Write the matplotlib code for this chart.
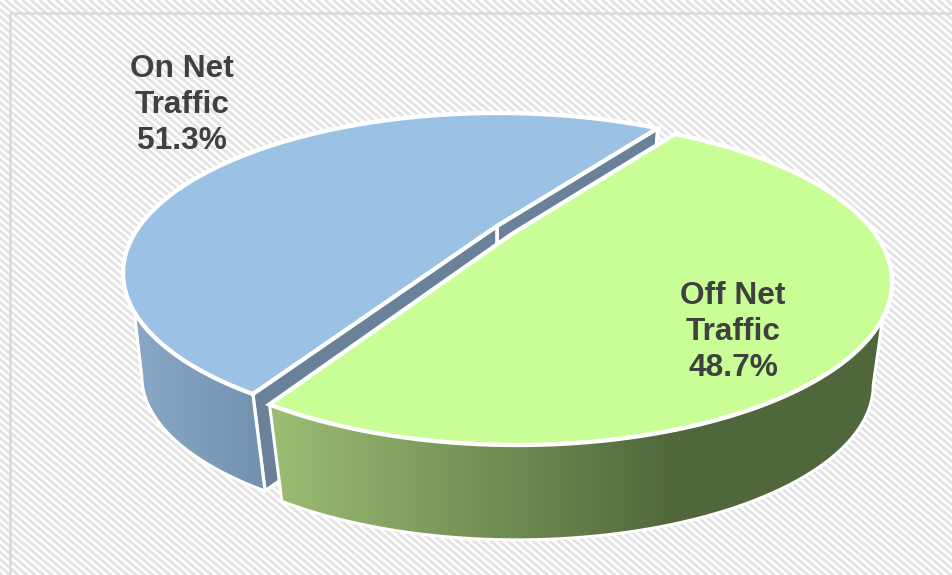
import numpy as np
import matplotlib
matplotlib.use("Agg")
import matplotlib.pyplot as plt
from matplotlib.patches import Polygon, Rectangle
from matplotlib.colors import LinearSegmentedColormap

# Data
labels = ["On Net\nTraffic", "Off Net\nTraffic"]
shares = [51.3, 48.7]

plt.rcParams['font.family'] = ['Liberation Sans', 'DejaVu Sans']

fig = plt.figure(figsize=(9.52, 5.75), dpi=100)
ax = fig.add_axes([0, 0, 1, 1])

# Background panel with diagonal stripes
panel = Rectangle((10, 13), 950, 570, facecolor='white', edgecolor='none', zorder=1)
ax.add_patch(panel)
for x0 in np.arange(-700, 960, 8.4):
    ax.plot([x0, x0 + 1000], [0, 850], color='#e3e3e3', lw=2.1, zorder=1.1, clip_path=panel,
            solid_capstyle='butt')
ax.add_patch(Rectangle((10, 13), 950, 570, facecolor='none', edgecolor='#dadada', lw=1.8, zorder=1.2))

# Perspective view of the pie disc, one ellipse per slice
shrink = 0.95
depth = 103
view_on = dict(cx=498.0, mid=273.0, rx=375.0, ry=160.0, p=0.32)
view_off = dict(cx=517.0, mid=282.0, rx=375.0, ry=163.0, p=0.331)


def rim(theta, view):
    t = np.radians(theta)
    u, v = np.cos(t), -np.sin(t)
    w = 1 - view['p'] * v
    a = view['rx'] * np.sqrt(1 - view['p'] ** 2)
    b = view['ry'] * (1 - view['p'] ** 2)
    return np.column_stack([view['cx'] + a * u / w,
                            view['mid'] - view['p'] * view['ry'] + b * v / w])


def lower(pts, view):
    out = np.array(pts, dtype=float).reshape(-1, 2)
    out[:, 0] = view['cx'] + (out[:, 0] - view['cx']) * shrink
    out[:, 1] = view['mid'] + (out[:, 1] - view['mid']) * shrink + depth
    return out


def gradient_wall(pts, colors, x_range, z):
    cmap = LinearSegmentedColormap.from_list('wall', colors)
    img = ax.imshow(np.linspace(0, 1, 256).reshape(1, -1), cmap=cmap, aspect='auto',
                    extent=[x_range[0], x_range[1], 575, 0], zorder=z)
    patch = Polygon(pts, closed=True, facecolor='none', edgecolor='white', lw=2.2, zorder=z + 0.1,
                    joinstyle='round')
    ax.add_patch(patch)
    img.set_clip_path(patch)
    return patch


start = 55.4
sweeps = [s / sum(shares) * 360 for s in shares]
a0, a1, a2 = start, start + sweeps[0], start + sweeps[0] + sweeps[1]

tip_on = np.array([497.0, 226.0])
tip_off = np.array([512.0, 234.0])

# On net slice: cut faces
for ang in (a0, a1):
    edge = rim(np.array([ang]), view_on)
    face = np.vstack([tip_on, edge, lower(edge, view_on), lower(tip_on, view_on)])
    ax.add_patch(Polygon(face, closed=True, facecolor='#6a8199', edgecolor='white', lw=2.6, zorder=3))

# On net slice: outer wall
top = rim(np.linspace(211.5, a1, 60), view_on)
bot = lower(rim(np.linspace(a1, 198.7, 60), view_on), view_on)
gradient_wall(np.vstack([top, bot]), ['#8cabca', '#7090ad'], (120, 270), 4)

# On net slice: top
arc = rim(np.linspace(a0, a1, 200), view_on)
ax.add_patch(Polygon(np.vstack([tip_on, arc]), closed=True, facecolor='#9bc2e4', edgecolor='white',
                     lw=3.1, zorder=5, joinstyle='miter'))

# Off net slice: outer wall
top = rim(np.linspace(a1, 329, 100), view_off)
bot = lower(rim(np.linspace(340.7, a1, 100), view_off), view_off)
wall = gradient_wall(np.vstack([top, bot]), ['#9dbf74', '#50663b'], (265, 680), 6)
ax.add_patch(Rectangle((680, 0), 300, 575, facecolor='#50663b', zorder=6.05, clip_path=wall))

# Off net slice: top
arc = rim(np.linspace(a1, a2, 200), view_off)
ax.add_patch(Polygon(np.vstack([tip_off, arc]), closed=True, facecolor='#c9fd96', edgecolor='white',
                     lw=3.1, zorder=7, joinstyle='miter'))

# Labels
ax.text(182, 105, f"{labels[0]}\n{shares[0]}%", ha='center', va='center', fontsize=22.8,
        fontweight='bold', color='#404040', linespacing=1.26, zorder=9)
ax.text(733, 332, f"{labels[1]}\n{shares[1]}%", ha='center', va='center', fontsize=22.8,
        fontweight='bold', color='#404040', linespacing=1.26, zorder=9)

ax.set_xlim(0, 952)
ax.set_ylim(575, 0)
ax.axis('off')
fig.savefig('out.png', dpi=100)
